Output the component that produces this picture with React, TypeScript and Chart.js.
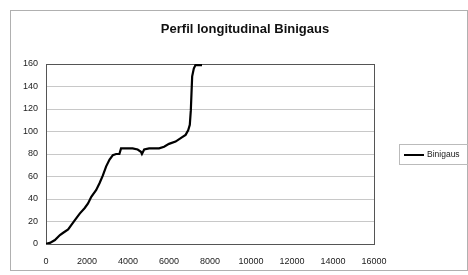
import React, { useEffect, useRef } from "react";
import { Chart, registerables } from "chart.js";

Chart.register(...registerables);

const distance = [0, 190, 435, 680, 840, 1080, 1240, 1400, 1645, 1890, 2050, 2210, 2450, 2610, 2775, 2935, 3100, 3260, 3420, 3580, 3660, 3900, 4225, 4470, 4630, 4680, 4790, 5030, 5515, 5760, 6000, 6320, 6645, 6810, 6935, 7015, 7065, 7130, 7210, 7290, 7610];
const elevation = [0, 1, 3.5, 8, 10, 13, 17, 21, 27, 32, 36, 42, 48, 54, 61, 69, 75, 79, 80, 80, 85, 85, 85, 84, 82, 80, 84, 85, 85, 86.5, 89, 91, 95, 97, 101, 106, 119, 149, 156, 159, 159];
const seriesName = "Binigaus";
const chartTitle = "Perfil longitudinal Binigaus";

const FONT = "Arial, 'Liberation Sans', sans-serif";

const decorPlugin = {
  id: "decor",
  beforeDraw(chart: any) {
    const ctx = chart.ctx;
    ctx.save();
    ctx.fillStyle = "#ffffff";
    ctx.fillRect(0, 0, chart.width, chart.height);
    ctx.strokeStyle = "#b0b0b0";
    ctx.lineWidth = 1;
    ctx.strokeRect(10.5, 10.5, 457, 260);
    ctx.restore();
  },
  afterDraw(chart: any) {
    const ctx = chart.ctx;
    ctx.save();
    // title
    ctx.fillStyle = "#111";
    ctx.font = `bold 13px ${FONT}`;
    ctx.textAlign = "center";
    ctx.textBaseline = "middle";
    ctx.fillText(chartTitle, 245, 29);
    // legend
    ctx.strokeStyle = "#bbbbbb";
    ctx.lineWidth = 1;
    ctx.strokeRect(399.5, 144.5, 80, 20);
    ctx.strokeStyle = "#000";
    ctx.lineWidth = 2;
    ctx.beginPath();
    ctx.moveTo(404, 155);
    ctx.lineTo(424, 155);
    ctx.stroke();
    ctx.fillStyle = "#222";
    ctx.font = `8.5px ${FONT}`;
    ctx.textAlign = "left";
    ctx.fillText(seriesName, 427, 155);
    ctx.restore();
  },
};

export default function App() {
  const ref = useRef<HTMLCanvasElement>(null);
  useEffect(() => {
    document.body.style.margin = "0";
    const data = distance.map((x, i) => ({ x, y: elevation[i] }));
    const chart = new Chart(ref.current!, {
      type: "line",
      data: {
        datasets: [
          {
            label: seriesName,
            data,
            borderColor: "#000000",
            borderWidth: 2.2,
            pointRadius: 0,
            tension: 0,
            fill: false,
          },
        ],
      },
      options: {
        animation: false,
        responsive: false,
        layout: { padding: { left: 0, right: 94, top: 64, bottom: 0 } },
        plugins: { legend: { display: false }, title: { display: false }, tooltip: { enabled: false } },
        scales: {
          x: {
            type: "linear",
            min: 0,
            max: 16000,
            ticks: {
              stepSize: 2000,
              color: "#222",
              font: { size: 9, family: FONT },
              padding: 9,
              maxRotation: 0,
              callback: (v: any) => String(v),
            },
            grid: { display: false, drawOnChartArea: false, tickLength: 3, color: "#666" },
            border: { display: true, color: "#555", width: 1 },
            afterFit: (s: any) => { s.height = 31; },
          },
          y: {
            min: 0,
            max: 160,
            ticks: { stepSize: 20, color: "#222", font: { size: 9, family: FONT }, padding: 8 },
            grid: { color: "#c8c8c8", lineWidth: 1, tickLength: 0 },
            border: { display: true, color: "#555", width: 1 },
            afterFit: (s: any) => { s.width = 46; },
          },
          y2: {
            position: "right",
            min: 0,
            max: 160,
            ticks: { display: false },
            grid: { display: false },
            border: { display: true, color: "#555", width: 1 },
            afterFit: (s: any) => { s.width = 0; },
          },
          x2: {
            position: "top",
            type: "linear",
            min: 0,
            max: 16000,
            ticks: { display: false },
            grid: { display: false },
            border: { display: true, color: "#555", width: 1 },
            afterFit: (s: any) => { s.height = 0; },
          },
        },
      },
      plugins: [decorPlugin],
    });
    return () => chart.destroy();
  }, []);
  return (
    <div style={{ position: "relative", width: 468, height: 275 }}>
      <canvas ref={ref} width={468} height={275} style={{ display: "block" }} />
    </div>
  );
}
